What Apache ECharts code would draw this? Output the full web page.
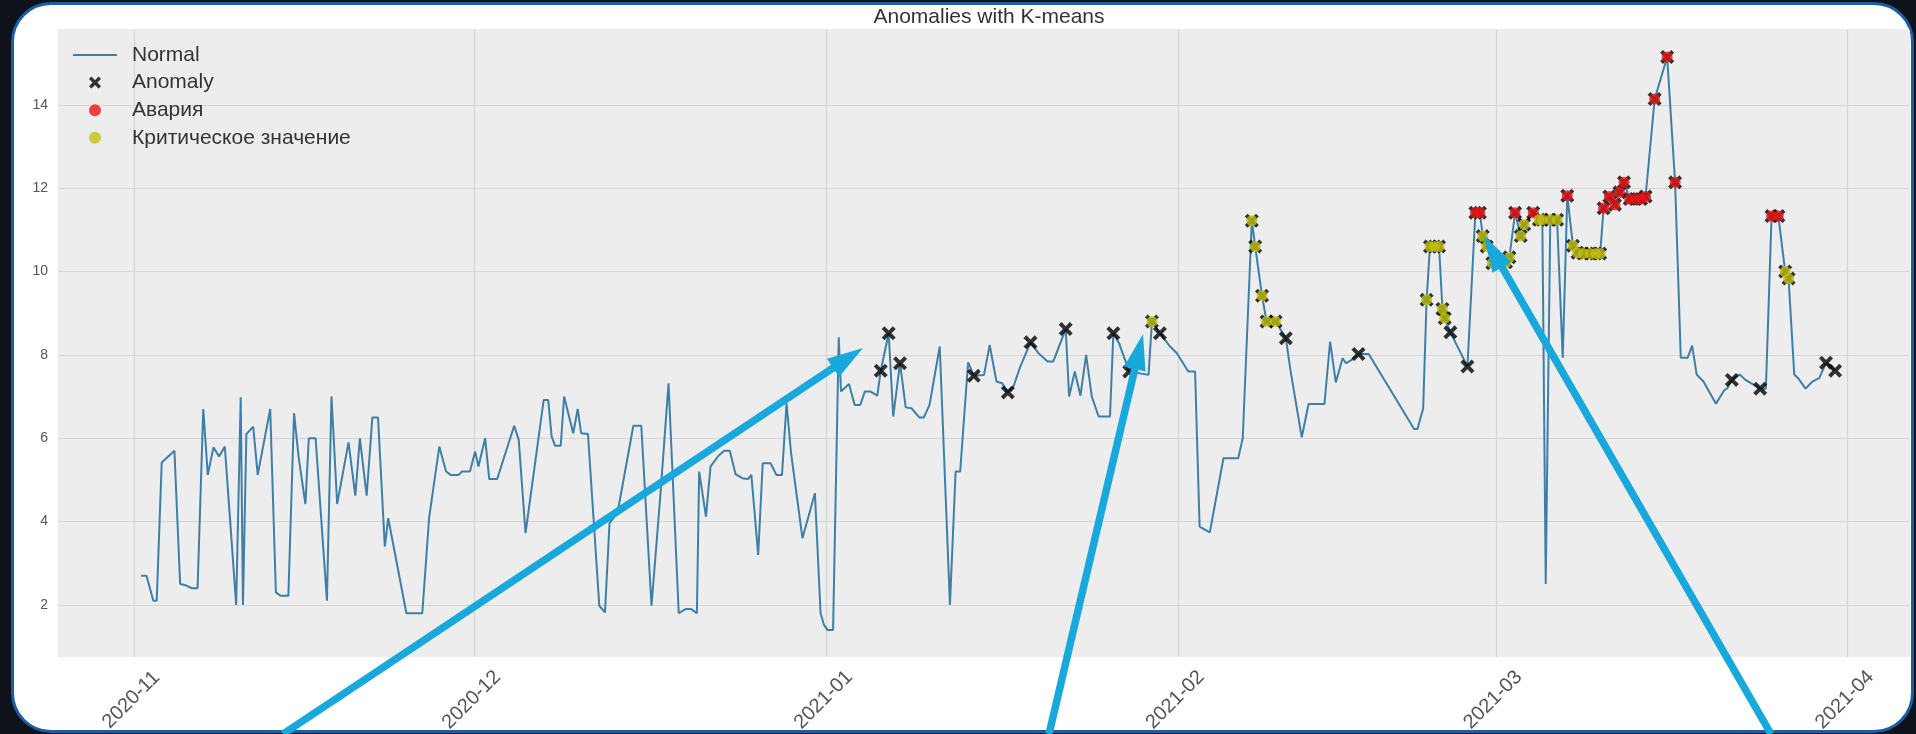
<!DOCTYPE html>
<html>
<head>
<meta charset="utf-8">
<title>Anomalies with K-means</title>
<script src="https://cdn.jsdelivr.net/npm/echarts@6/dist/echarts.min.js"></script>
<style>
  html, body { margin: 0; padding: 0; width: 1916px; height: 734px; overflow: hidden; background: #0e121a; }
  #card {
    position: absolute; left: 11px; top: 2px; width: 1903px; height: 731px;
    box-sizing: border-box; border: 3.5px solid #1b5ea3; border-radius: 40px; background: #ffffff;
  }
  #chart {
    position: absolute; left: 0; top: 0; width: 1916px; height: 734px;
    clip-path: inset(0 5px 0 0 round 0 40px 0 0);
  }
</style>
</head>
<body>
<div id="card"></div>
<div id="chart"></div>
<script>
// Sensor readings, time given as elapsed days since 2020-11-01 (UTC)
const startDate = '2020-11-01';

const novDays = [
  0.62, 1.10, 1.70, 2.00, 2.44, 3.56, 4.06, 4.45, 5.10, 5.60,
  6.10, 6.50, 7.00, 7.50, 8.00, 9.00, 9.40, 9.60, 9.90, 10.50,
  10.90, 12.00, 12.50, 12.90, 13.60, 14.10, 14.50, 15.10, 15.40, 16.00,
  17.00, 17.40, 17.90, 18.90, 19.50, 19.90, 20.50, 21.00, 21.50, 22.10,
  22.40, 24.00, 25.40, 26.00, 26.90, 27.50, 27.90, 28.60, 28.90, 29.60,
  30.06, 30.35, 30.94
];
const novValues = [
  2.70, 2.70, 2.10, 2.10, 5.42, 5.70, 2.50, 2.48, 2.40, 2.40,
  6.70, 5.12, 5.78, 5.56, 5.80, 2.00, 6.98, 2.00, 6.10, 6.28,
  5.12, 6.70, 2.30, 2.22, 2.22, 6.60, 5.56, 4.42, 6.00, 6.00,
  2.10, 7.00, 4.42, 5.90, 4.62, 6.00, 4.62, 6.50, 6.50, 3.40,
  4.08, 1.80, 1.80, 4.08, 5.80, 5.20, 5.12, 5.12, 5.20, 5.20,
  5.68, 5.32, 6.00
];

const decDays = [
  31.30, 32.00, 33.50, 33.90, 34.50, 36.10, 36.50, 36.80, 37.10, 37.60,
  37.90, 38.70, 39.10, 39.40, 40.00, 41.00, 41.50, 41.90, 42.60, 44.00,
  44.70, 45.60, 46.40, 47.10, 48.00, 48.60, 49.10, 49.60, 49.80, 50.40,
  50.80, 51.50, 52.00, 52.50, 53.00, 53.60, 54.10, 54.40, 55.00, 55.40,
  56.10, 56.60, 57.10, 57.50, 57.90, 58.90, 60.00, 60.50, 60.80, 61.10,
  61.60
];
const decValues = [
  5.02, 5.02, 6.30, 5.96, 3.72, 6.92, 6.92, 6.04, 5.82, 5.82,
  7.00, 6.12, 6.70, 6.12, 6.10, 1.98, 1.82, 3.96, 4.20, 6.30,
  6.30, 1.98, 4.70, 7.32, 1.80, 1.90, 1.90, 1.80, 5.20, 4.12,
  5.32, 5.58, 5.70, 5.70, 5.14, 5.04, 5.02, 5.12, 3.20, 5.40,
  5.40, 5.12, 5.12, 6.84, 5.64, 3.60, 4.68, 1.80, 1.52, 1.40,
  1.40
];

const janDays = [
  62.10, 62.30, 63.00, 63.50, 64.00, 64.40, 64.90, 65.50, 65.80, 66.50,
  66.90, 67.50, 68.00, 68.50, 69.20, 69.60, 70.10, 71.00, 71.90, 72.40,
  72.80, 73.50, 74.00, 74.90, 75.40, 76.00, 76.50, 77.00, 77.50, 78.10,
  79.00, 79.70, 80.50, 81.00, 82.10, 82.40, 82.90, 83.40, 83.90, 84.40,
  85.00, 86.00, 86.30, 86.80, 87.70, 89.40, 89.70, 90.40, 91.30, 91.90
];
const janValues = [
  8.42, 7.12, 7.30, 6.80, 6.80, 7.12, 7.12, 7.02, 7.62, 8.52,
  6.52, 7.80, 6.74, 6.72, 6.50, 6.50, 6.80, 8.20, 2.00, 5.20,
  5.20, 7.82, 7.50, 7.52, 8.24, 7.36, 7.32, 7.10, 7.24, 7.72,
  8.30, 8.04, 7.84, 7.84, 8.62, 7.00, 7.60, 7.02, 8.00, 7.00,
  6.52, 6.52, 8.52, 8.28, 7.60, 7.52, 8.80, 8.52, 8.20, 8.04
];

const febDays = [
  92.90, 93.50, 93.90, 94.80, 96.00, 97.30, 97.70, 98.50, 98.80, 99.40,
  99.80, 100.60, 101.50, 101.90, 102.90, 103.50, 104.90, 105.40, 105.90, 106.50,
  106.80, 107.30, 107.90, 108.80, 112.80, 113.10, 113.60, 113.90, 114.20, 114.60,
  115.00, 115.30, 115.50, 116.00, 117.50, 118.20, 118.60, 118.85, 119.20, 119.70
];
const febValues = [
  7.60, 7.60, 3.88, 3.74, 5.52, 5.52, 6.00, 11.22, 10.60, 9.42,
  8.80, 8.80, 8.40, 7.64, 6.02, 6.82, 6.82, 8.32, 7.34, 7.92,
  7.80, 7.88, 8.02, 8.02, 6.22, 6.22, 6.72, 9.32, 10.60, 10.60,
  10.60, 9.10, 8.88, 8.54, 7.72, 11.41, 11.41, 10.85, 10.60, 10.20
];

const marDays = [
  120.90, 121.20, 121.70, 122.20, 122.50, 123.30, 123.80, 124.10, 124.40, 124.80,
  125.40, 125.90, 126.30, 126.80, 127.20, 127.70, 128.30, 128.80, 129.20, 129.50,
  130.00, 130.50, 130.90, 131.30, 131.80, 132.30, 132.80, 133.20, 134.00, 135.10,
  135.80, 136.30, 136.90, 137.30, 137.70, 138.30, 139.40, 140.10, 140.40, 140.80,
  141.50, 142.00, 143.30, 143.80, 144.30, 144.90, 145.50, 145.80, 146.30, 146.70,
  147.30, 147.90, 148.50, 149.10, 149.90
];
const marValues = [
  10.22, 10.34, 11.41, 10.85, 11.13, 11.41, 11.24, 11.24, 2.50, 11.24,
  11.24, 7.93, 11.82, 10.62, 10.45, 10.43, 10.43, 10.43, 10.43, 11.52,
  11.80, 11.60, 11.90, 12.14, 11.74, 11.74, 11.74, 11.80, 14.14, 15.15,
  12.14, 7.93, 7.93, 8.22, 7.53, 7.36, 6.83, 7.14, 7.20, 7.40,
  7.53, 7.40, 7.19, 7.19, 11.33, 11.33, 10.00, 9.83, 7.53, 7.42,
  7.19, 7.36, 7.44, 7.81, 7.62
];

// Points flagged by the clustering (all drawn with an X)
const anomalyDays = [
  65.80, 66.50, 67.50, 74.00, 77.00, 79.00, 82.10, 86.30, 87.70, 90.40,
  101.50, 107.90, 116.00, 117.50, 140.80, 143.30, 149.10, 149.90
];
// Flagged points that are failures ("Авария")
const alarmDays = [
  118.20, 118.60, 121.70, 123.30, 126.30, 129.50, 130.00, 130.50, 130.90, 131.30,
  131.80, 132.30, 132.80, 133.20, 134.00, 135.10, 135.80, 144.30, 144.90
];
// Flagged points at a critical level
const criticalDays = [
  89.70, 98.50, 98.80, 99.40, 99.80, 100.60, 113.90, 114.20, 114.60, 115.00,
  115.30, 115.50, 118.85, 119.20, 119.70, 120.90, 121.20, 122.20, 122.50, 123.80,
  124.10, 124.80, 125.40, 126.80, 127.20, 127.70, 128.30, 128.80, 129.20, 145.50,
  145.80
];

const monthTicks = ['2020-11-01', '2020-12-01', '2021-01-01', '2021-02-01', '2021-03-01', '2021-04-01'];
const monthLabels = ['2020-11', '2020-12', '2021-01', '2021-02', '2021-03', '2021-04'];
const yTicks = [2, 4, 6, 8, 10, 12, 14];

// ---------------------------------------------------------------------------
const DAY = 86400000;
const START = Date.parse(startDate);
const toTime = d => START + d * DAY;

const days = [].concat(novDays, decDays, janDays, febDays, marDays);
const values = [].concat(novValues, decValues, janValues, febValues, marValues);
const valueByDay = new Map(days.map((d, i) => [d, values[i]]));
const points = list => list.map(d => [toTime(d), valueByDay.get(d)]);

const flaggedDays = anomalyDays.concat(alarmDays, criticalDays).sort((a, b) => a - b);
const monthTickMs = monthTicks.map(s => Date.parse(s));

const X_MARK = 'path://M10,6L16,0L20,4L14,10L20,16L16,20L10,14L4,20L0,16L6,10L0,4L4,0Z';
const LINE_COLOR = '#3e7fa8';
const FONT = "'Liberation Sans', Arial, sans-serif";

// Hand-drawn callout arrows: [tailX, tailY, tipX, tipY] in page pixels
const callouts = [
  [283, 734, 863, 348],
  [1049, 734, 1143, 334],
  [1771, 734, 1484, 236]
];

function arrowGraphics(a) {
  const [x1, y1, x2, y2] = a;
  const len = Math.hypot(x2 - x1, y2 - y1);
  const ux = (x2 - x1) / len, uy = (y2 - y1) / len;
  const headLen = 36, halfW = 11;
  const bx = x2 - ux * headLen, by = y2 - uy * headLen;
  const px = -uy, py = ux;
  return [
    {
      type: 'line', z: 100, silent: true,
      shape: { x1: x1, y1: y1, x2: bx + ux * 2, y2: by + uy * 2 },
      style: { stroke: '#19a8dc', lineWidth: 7.5, lineCap: 'butt' }
    },
    {
      type: 'polygon', z: 100, silent: true,
      shape: { points: [[x2, y2], [bx + px * halfW, by + py * halfW], [bx - px * halfW, by - py * halfW]] },
      style: { fill: '#19a8dc' }
    }
  ];
}

const chart = echarts.init(document.getElementById('chart'), null, { renderer: 'canvas' });

chart.setOption({
  animation: false,
  backgroundColor: 'transparent',
  textStyle: { fontFamily: FONT },
  title: {
    text: 'Anomalies with K-means',
    left: 984, top: 2, textAlign: 'center',
    textStyle: { fontSize: 21, fontWeight: 'normal', color: '#333', fontFamily: FONT }
  },
  legend: {
    orient: 'vertical', left: 68, top: 39,
    itemWidth: 44, itemHeight: 12, itemGap: 5.6,
    symbolKeepAspect: true,
    selectedMode: false,
    textStyle: { fontSize: 21, color: '#333', lineHeight: 22, padding: [0, 0, 0, 10], fontFamily: FONT },
    data: [
      { name: 'Normal', icon: 'path://M0,0H44V2H0Z' },
      { name: 'Anomaly', icon: X_MARK },
      { name: 'Авария', icon: 'circle' },
      { name: 'Критическое значение', icon: 'circle' }
    ]
  },
  grid: {
    left: 58, right: 6, top: 29, bottom: 77,
    outerBoundsMode: 'none',
    containLabel: false,
    show: true, backgroundColor: '#ededed', borderWidth: 0
  },
  xAxis: {
    type: 'value',
    min: toTime(-6.70),
    max: toTime(156.50),
    axisLine: { show: false },
    axisTick: { show: false, customValues: monthTickMs },
    splitLine: { show: true, lineStyle: { color: '#d6d6d6', width: 1.2 } },
    axisLabel: {
      customValues: monthTickMs,
      formatter: v => monthLabels[monthTickMs.indexOf(v)] || '',
      rotate: 45, align: 'center', verticalAlign: 'middle', margin: 40,
      padding: [0, 8, 8, 0],
      fontSize: 20, color: '#555', fontFamily: FONT
    }
  },
  yAxis: {
    type: 'value',
    min: 0.75, max: 15.82,
    axisLine: { show: false },
    axisTick: { show: false, customValues: yTicks },
    splitLine: { show: true, lineStyle: { color: '#d6d6d6', width: 1.2 } },
    axisLabel: {
      customValues: yTicks,
      margin: 10, fontSize: 14, color: '#555', fontFamily: FONT
    }
  },
  series: [
    {
      name: 'Normal', type: 'line', z: 2,
      color: LINE_COLOR,
      data: days.map((d, i) => [toTime(d), values[i]]),
      showSymbol: false, silent: true,
      lineStyle: { color: LINE_COLOR, width: 2 }
    },
    {
      name: 'Anomaly', type: 'scatter', z: 3, silent: true,
      symbol: X_MARK, symbolSize: 14,
      itemStyle: { color: '#000000' },
      data: points(flaggedDays)
    },
    {
      name: 'Авария', type: 'scatter', z: 4, silent: true,
      symbol: 'circle', symbolSize: 11,
      itemStyle: { color: '#ee1515' },
      data: points(alarmDays)
    },
    {
      name: 'Критическое значение', type: 'scatter', z: 5, silent: true,
      symbol: 'circle', symbolSize: 11,
      itemStyle: { color: '#c3c112' },
      data: points(criticalDays)
    }
  ],
  graphic: callouts.flatMap(arrowGraphics)
});
</script>
</body>
</html>
